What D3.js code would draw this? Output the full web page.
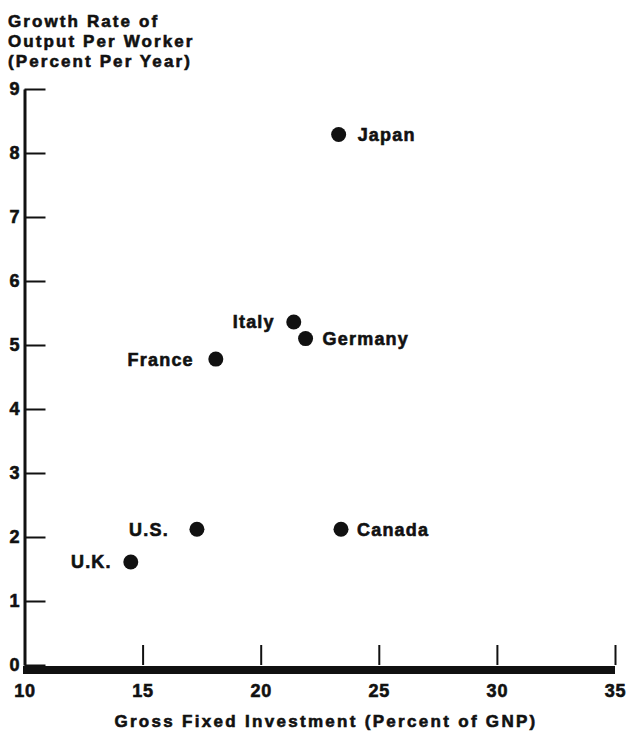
<!DOCTYPE html>
<html>
<head>
<meta charset="utf-8">
<script src="https://cdn.jsdelivr.net/npm/d3@7"></script>
<style>
  body { margin: 0; background: #fff; }
  svg { display: block; font-family: "Liberation Sans", Arial, sans-serif; font-weight: bold; }
  svg text { stroke: #111; stroke-width: 0.6px; }
</style>
</head>
<body>
<svg id="chart"></svg>
<script>
// values
const countries = ["Japan", "Italy", "Germany", "France", "U.S.", "Canada", "U.K."];
const investment = [23.3, 21.4, 21.9, 18.1, 17.3, 23.4, 14.5];   // % of GNP
const growth = [8.29, 5.36, 5.10, 4.78, 2.12, 2.12, 1.61];       // % per year
const xTicks = [10, 15, 20, 25, 30, 35];
const yTicks = [0, 1, 2, 3, 4, 5, 6, 7, 8, 9];
const titleLines = ["Growth Rate of", "Output Per Worker", "(Percent Per Year)"];
const xTitle = "Gross Fixed Investment (Percent of GNP)";

// which side each label goes, and how far from the dot
const labelDx = { "Japan": 19, "Italy": -19, "Germany": 17, "France": -22, "U.S.": -28, "Canada": 16, "U.K.": -19 };

const svgWidth = 628, svgHeight = 731;
const ink = "#111";

const svg = d3.select("#chart")
    .attr("width", svgWidth)
    .attr("height", svgHeight);

const x = d3.scaleLinear().domain([10, 35]).range([24.5, 615]);
const y = d3.scaleLinear().domain([0, 9]).range([665, 89]);

// title, top left
svg.append("g")
    .selectAll("text")
    .data(titleLines)
    .join("text")
    .attr("x", 8)
    .attr("y", (d, i) => 27 + i * 20)
    .attr("font-size", 17)
    .attr("letter-spacing", 2.1)
    .attr("fill", ink)
    .text(d => d);

// y axis, ticks point inwards
const yAxis = svg.append("g")
    .attr("transform", `translate(${x(10)},0)`)
    .call(d3.axisLeft(y).tickValues(yTicks).tickSizeInner(-21).tickSizeOuter(0).tickPadding(5));
yAxis.select(".domain").attr("stroke", ink).attr("stroke-width", 3);
yAxis.selectAll(".tick line").attr("stroke", ink).attr("stroke-width", 2);
yAxis.selectAll(".tick text")
    .attr("font-size", 18)
    .attr("font-family", "Liberation Sans, Arial, sans-serif")
    .attr("font-weight", "bold")
    .attr("fill", ink);

// x axis, ticks point up
const xAxis = svg.append("g")
    .attr("transform", `translate(0,${y(0)})`)
    .call(d3.axisBottom(x).tickValues(xTicks).tickSizeInner(-20).tickSizeOuter(0).tickPadding(19));
xAxis.select(".domain").remove();
xAxis.selectAll(".tick line").attr("stroke", ink).attr("stroke-width", 2);
xAxis.selectAll(".tick text")
    .attr("font-size", 18)
    .attr("font-family", "Liberation Sans, Arial, sans-serif")
    .attr("font-weight", "bold")
    .attr("letter-spacing", 0.8)
    .attr("fill", ink);

// heavy baseline
xAxis.append("line")
    .attr("x1", x(10) - 1.5)
    .attr("x2", x(35))
    .attr("y1", 5)
    .attr("y2", 5)
    .attr("stroke", ink)
    .attr("stroke-width", 8);

svg.append("text")
    .attr("x", 326)
    .attr("y", 727)
    .attr("text-anchor", "middle")
    .attr("font-size", 17)
    .attr("letter-spacing", 2.3)
    .attr("fill", ink)
    .text(xTitle);

// points
const pts = countries.map((c, i) => ({ name: c, inv: investment[i], gr: growth[i] }));

const g = svg.append("g");

g.selectAll("circle")
    .data(pts)
    .join("circle")
    .attr("cx", d => x(d.inv))
    .attr("cy", d => y(d.gr))
    .attr("r", 7.5)
    .attr("fill", ink);

g.selectAll("text")
    .data(pts)
    .join("text")
    .attr("x", d => x(d.inv) + labelDx[d.name])
    .attr("y", d => y(d.gr) + 6.5)
    .attr("text-anchor", d => labelDx[d.name] < 0 ? "end" : "start")
    .attr("font-size", 18)
    .attr("letter-spacing", 1.2)
    .attr("fill", ink)
    .text(d => d.name);
</script>
</body>
</html>
